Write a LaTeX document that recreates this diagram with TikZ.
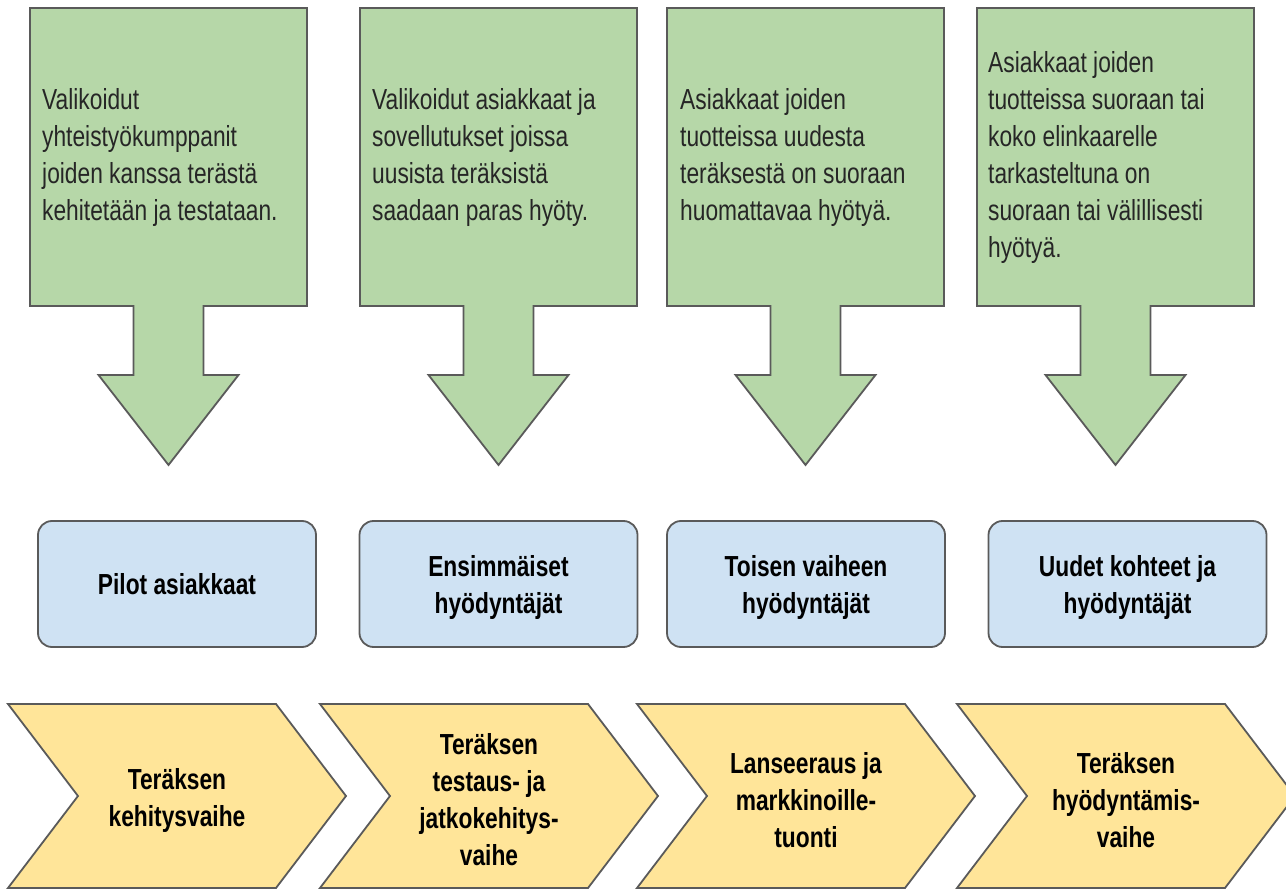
\documentclass[tikz,border=0pt]{standalone}
\usepackage{fontspec}
\setmainfont{Liberation Sans}[FakeStretch=0.785]
\definecolor{gfill}{HTML}{B6D7A8}
\definecolor{bfill}{HTML}{CFE2F3}
\definecolor{yfill}{HTML}{FFE599}
\definecolor{edge}{HTML}{5A5A5A}
\definecolor{txt}{HTML}{262626}
\newcommand\diaglbl{\fontsize{29}{37}\selectfont}
\begin{document}
\begin{tikzpicture}[x=1pt,y=-1pt,
  shapeline/.style={draw=edge, line width=1.8pt, line join=miter},
  callout/.style={shapeline, fill=gfill},
  chev/.style={shapeline, fill=yfill},
  bluebox/.style={shapeline, fill=bfill, rounded corners=14pt, minimum width=278pt,
    minimum height=126pt, align=center, font=\bfseries\diaglbl, text=black, inner sep=0pt},
  bluetext/.style={align=center, font=\bfseries\diaglbl, text=black, inner sep=0pt},
  ctext/.style={anchor=west, align=left, font=\diaglbl, text=txt, inner sep=0pt},
  chtext/.style={align=center, font=\bfseries\diaglbl, text=black, inner sep=0pt},
  lower/.style={yshift=-4pt}]
\useasboundingbox (0,0) rectangle (1286,890);
\clip (0,0) rectangle (1286,890);
% callout arrows
\foreach \x in {30,360,667,977} {
  \pgfmathsetmacro\c{\x+138.5}
  \path[callout] (\x,8) -- (\x+277,8) -- (\x+277,306) -- (\c+35,306) -- (\c+35,375)
    -- (\c+70,375) -- (\c,465) -- (\c-70,375) -- (\c-35,375) -- (\c-35,306)
    -- (\x,306) -- cycle;
}
\node[ctext] (t1) at (42,158) {Valikoidut\\yhteistyökumppanit\\joiden kanssa terästä\\kehitetään ja testataan.};
\node[ctext] (t2) at (372,158) {Valikoidut asiakkaat ja\\sovellutukset joissa\\uusista teräksistä\\saadaan paras hyöty.};
\node[ctext] (t3) at (680,158) {Asiakkaat joiden\\tuotteissa uudesta\\teräksestä on suoraan\\huomattavaa hyötyä.};
\node[ctext] (t4) at (988,158) {Asiakkaat joiden\\tuotteissa suoraan tai\\koko elinkaarelle\\tarkasteltuna on\\suoraan tai välillisesti\\hyötyä.};
% blue boxes
\node[bluebox] (b1) at (177,584) {Pilot asiakkaat};
\node[bluebox] (b2) at (498.5,584) {};
\node[bluebox] (b3) at (806,584) {};
\node[bluebox] (b4) at (1127.5,584) {};
\node[bluetext, lower] (l2) at (b2) {Ensimmäiset\\hyödyntäjät};
\node[bluetext, lower] (l3) at (b3) {Toisen vaiheen\\hyödyntäjät};
\node[bluetext, lower] (l4) at (b4) {Uudet kohteet ja\\hyödyntäjät};
% chevrons
\foreach \L in {8,320,637,957} {
  \path[chev] (\L,704) -- (\L+268,704) -- (\L+338,796) -- (\L+268,888) -- (\L,888)
    -- (\L+70,796) -- cycle;
}
\node[chtext, lower] (c1) at (177,796) {Teräksen\\kehitysvaihe};
\node[chtext, lower] (c2) at (489,796) {Teräksen\\testaus- ja\\jatkokehitys-\\vaihe};
\node[chtext, lower] (c3) at (806,796) {Lanseeraus ja\\markkinoille-\\tuonti};
\node[chtext, lower] (c4) at (1126,796) {Teräksen\\hyödyntämis-\\vaihe};
\end{tikzpicture}
\end{document}
